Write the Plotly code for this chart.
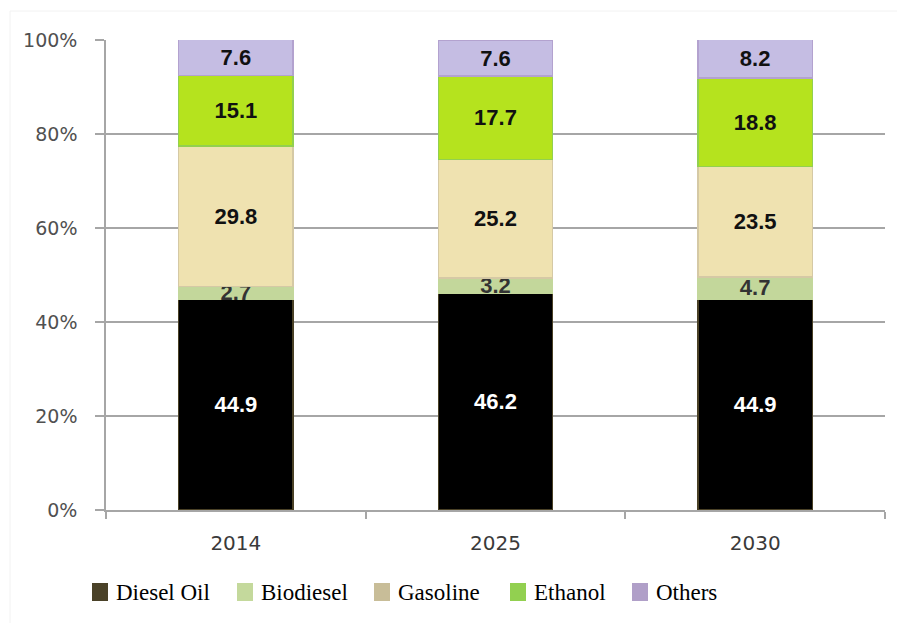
import plotly.graph_objects as go

W, H = 897, 623

years = ["2014", "2025", "2030"]
fuels = ["Diesel Oil", "Biodiesel", "Gasoline", "Ethanol", "Others"]
diesel = [44.9, 46.2, 44.9]
biodiesel = [2.7, 3.2, 4.7]
gasoline = [29.8, 25.2, 23.5]
ethanol = [15.1, 17.7, 18.8]
others = [7.6, 7.6, 8.2]
shares = [diesel, biodiesel, gasoline, ethanol, others]

bar_fill = ["#000000", "#c3d79b", "#efe2b0", "#b5e31e", "#c5bde3"]
bar_edge = ["#4a4126", "#c3d79b", "#d5c9a5", "#92d050", "#b3a2cf"]
label_color = ["#ffffff", "#333333", "#111111", "#111111", "#111111"]
legend_color = ["#4a4228", "#c4d99c", "#c8bd98", "#92d050", "#b09fc8"]

y_ticks = [0, 20, 40, 60, 80, 100]
y_tick_text = [f"{v}%" for v in y_ticks]

# plot area in pixels
L, R, T, B = 106, 885, 40, 510

fig = go.Figure()
for name, vals, fc, ec, tc in zip(fuels, shares, bar_fill, bar_edge, label_color):
    fig.add_trace(go.Bar(
        x=years, y=vals, name=name, showlegend=False,
        marker=dict(color=fc, line=dict(color=ec, width=1.5)),
        text=[f"{v:.1f}" for v in vals],
        textposition="inside", insidetextanchor="middle",
        textangle=0, constraintext="none",
        textfont=dict(family="Liberation Sans, Arial", size=22,
                      color=tc, weight="bold"),
        hoverinfo="skip",
    ))

# legend: swatch + serif label
legend_x = [92, 237, 374, 510, 632]
legend_y = 592
shapes = []
annotations = []
for name, col, lx in zip(fuels, legend_color, legend_x):
    shapes.append(dict(type="rect", xref="paper", yref="paper",
                       x0=(lx - L) / (R - L), x1=(lx + 16 - L) / (R - L),
                       y0=(B - (legend_y + 9)) / (B - T),
                       y1=(B - (legend_y - 9)) / (B - T),
                       fillcolor=col, line=dict(width=0), layer="above"))
    annotations.append(dict(xref="paper", yref="paper",
                            x=(lx + 22 - L) / (R - L),
                            y=(B - legend_y) / (B - T),
                            xanchor="left", yanchor="middle",
                            text=name, showarrow=False,
                            font=dict(family="Liberation Serif, Times New Roman",
                                      size=23, color="#000000")))

# faint outer frame of the chart
shapes.append(dict(type="rect", xref="paper", yref="paper",
                   x0=(10 - L) / (R - L), x1=(W + 5 - L) / (R - L),
                   y0=(B - (H + 5)) / (B - T), y1=(B - 11) / (B - T),
                   line=dict(color="#f2f2f2", width=1), layer="below"))

fig.update_layout(
    width=W, height=H,
    margin=dict(l=L, r=W - R, t=T, b=H - B),
    barmode="stack", bargap=0.56,
    plot_bgcolor="#ffffff", paper_bgcolor="#ffffff",
    shapes=shapes, annotations=annotations,
    showlegend=False,
    xaxis=dict(
        type="category", tickson="boundaries",
        ticks="outside", ticklen=7, tickcolor="#a6a6a6", tickwidth=1.5,
        showline=True, linecolor="#a6a6a6", linewidth=1.5,
        showgrid=False, ticklabelstandoff=14,
        tickfont=dict(family="DejaVu Sans", size=20, color="#3a3a3a"),
    ),
    yaxis=dict(
        range=[0, 100], tickmode="array",
        tickvals=y_ticks, ticktext=y_tick_text,
        ticks="outside", ticklen=9, tickcolor="#a6a6a6", tickwidth=1.5,
        showline=True, linecolor="#a6a6a6", linewidth=1.5,
        showgrid=True, gridcolor="#a6a6a6", gridwidth=1.5,
        zeroline=False, ticklabelstandoff=14,
        tickfont=dict(family="DejaVu Sans", size=19, color="#505050"),
    ),
)

fig.write_html("out.html")
